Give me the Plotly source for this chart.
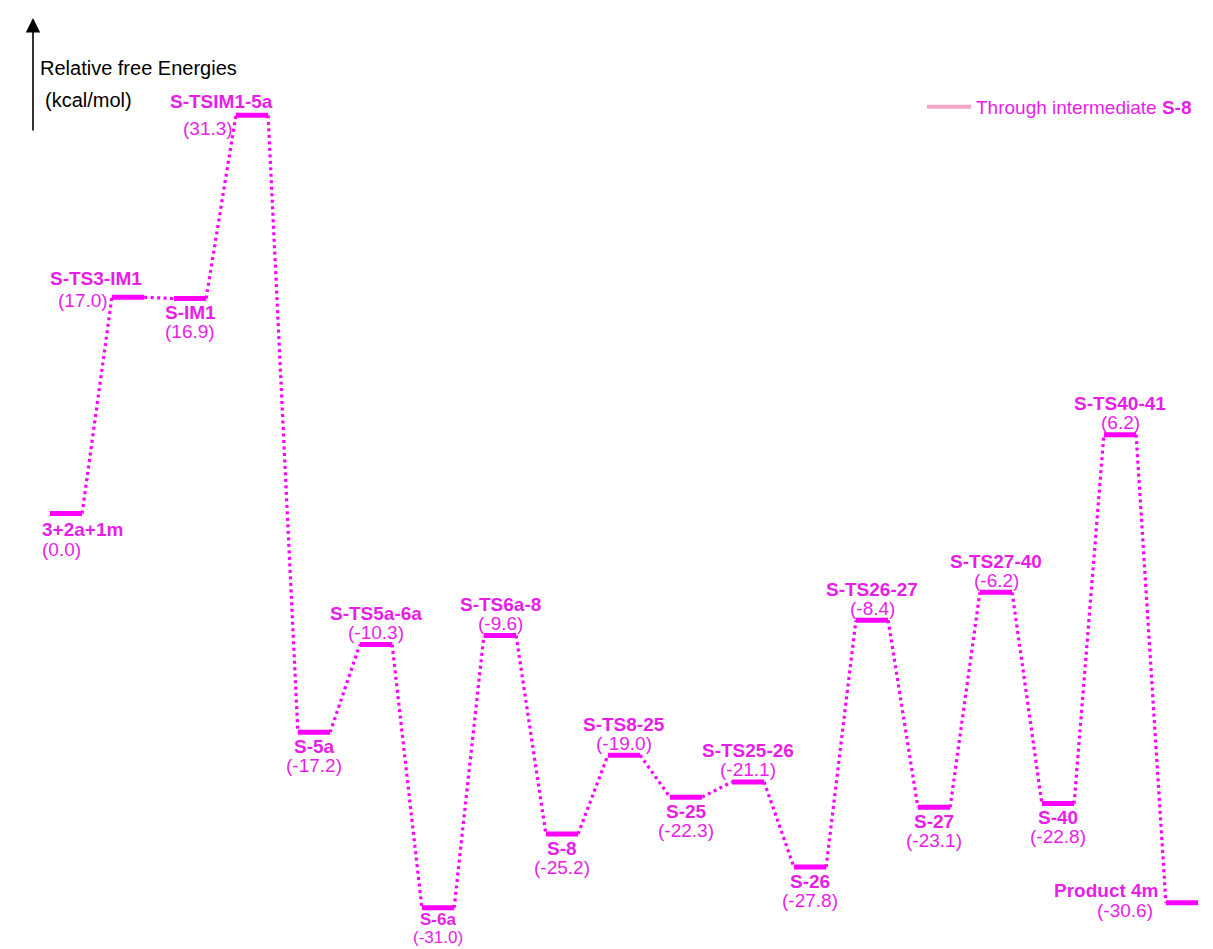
import plotly.graph_objects as go

# ---- data ----
species = ["3+2a+1m", "S-TS3-IM1", "S-IM1", "S-TSIM1-5a", "S-5a", "S-TS5a-6a",
           "S-6a", "S-TS6a-8", "S-8", "S-TS8-25", "S-25", "S-TS25-26", "S-26",
           "S-TS26-27", "S-27", "S-TS27-40", "S-40", "S-TS40-41", "Product 4m"]
energies = [0.0, 17.0, 16.9, 31.3, -17.2, -10.3, -31.0, -9.6, -25.2, -19.0,
            -22.3, -21.1, -27.8, -8.4, -23.1, -6.2, -22.8, 6.2, -30.6]
legend_label = "Through intermediate <b>S-8</b>"
axis_title = ["Relative free Energies", "(kcal/mol)"]

# ---- styling ----
MAG = "#ff00ff"
TXT = "#e81ee8"
FONT = "Arial, Liberation Sans, sans-serif"
FS = 19
HALF = 0.26  # half bar width in x units

# label placement: (xanchor, x offset in bar units, xshift px, yshift px, font size)
default_above = dict(name=("center", 0, 0, 31, FS), value=("center", 0, 0, 12, FS))
default_below = dict(name=("center", 0, 0, -14, FS), value=("center", 0, 0, -33, FS))
special = {
    0: dict(name=("left", -HALF, -10, -16, FS), value=("left", -HALF, -10, -36, FS)),
    1: dict(name=("right", HALF, 0, 19, FS), value=("right", -HALF, -2, -3, FS)),
    3: dict(name=("right", HALF, 7, 14, FS), value=("right", -HALF, -1, -13, FS)),
    6: dict(name=("center", 0, 0, -12, 17), value=("center", 0, 0, -30, 17)),
    18: dict(name=("right", -HALF, -5, 12, FS), value=("right", -HALF, -11, -8, FS)),
}

n = len(species)
xs = list(range(n))

# bars
bx, by = [], []
for i, e in zip(xs, energies):
    bx += [i - HALF, i + HALF, None]
    by += [e, e, None]

# connectors
cx, cy = [], []
for i in range(n - 1):
    cx += [xs[i] + HALF, xs[i + 1] - HALF, None]
    cy += [energies[i], energies[i + 1], None]

fig = go.Figure()
fig.add_trace(go.Scatter(x=cx, y=cy, mode="lines", showlegend=False,
                         line=dict(color=MAG, width=3.2, dash="3px,3.5px"),
                         hoverinfo="skip"))
fig.add_trace(go.Scatter(x=bx, y=by, mode="lines", showlegend=False,
                         line=dict(color=MAG, width=5), hoverinfo="skip"))
fig.add_trace(go.Scatter(x=[None], y=[None], mode="lines", name=legend_label,
                         line=dict(color="#f4a3c4", width=4)))

for i, (name, e) in enumerate(zip(species, energies)):
    if i in special:
        spec = special[i]
    else:
        is_max = (i == 0 or e > energies[i - 1]) and (i == n - 1 or e > energies[i + 1])
        spec = default_above if is_max else default_below
    for key, text, bold in (("name", name, True), ("value", f"({e:.1f})", False)):
        xa, dx, xsft, ysft, fs = spec[key]
        fig.add_annotation(x=i + dx, y=e, xref="x", yref="y", showarrow=False,
                           text=f"<b>{text}</b>" if bold else text,
                           xanchor=xa, yanchor="middle", xshift=xsft, yshift=ysft,
                           font=dict(family=FONT, size=fs, color=TXT))

# axis arrow and title
W, H = 1213, 949
fig.add_annotation(x=33 / W, y=1 - 18 / H, xref="paper", yref="paper",
                   ax=0, ay=114, showarrow=True, arrowhead=2, arrowsize=1.8,
                   arrowwidth=1.6, arrowcolor="black", text="")
fig.add_annotation(x=38 / W, y=1 - 68 / H, xref="paper", yref="paper",
                   text=axis_title[0], showarrow=False, xanchor="left", yanchor="middle",
                   font=dict(family=FONT, size=20, color="black"))
fig.add_annotation(x=43 / W, y=1 - 100 / H, xref="paper", yref="paper",
                   text=axis_title[1], showarrow=False, xanchor="left", yanchor="middle",
                   font=dict(family=FONT, size=20, color="black"))

x0 = -66 / 62
x1 = (W - 66) / 62
zero_px, scale = 513.5, 12.72
y_top = zero_px / scale
y_bot = -(H - zero_px) / scale
fig.update_layout(
    width=W, height=H, margin=dict(l=0, r=0, t=0, b=0),
    paper_bgcolor="white", plot_bgcolor="white",
    xaxis=dict(range=[x0, x1], visible=False, fixedrange=True),
    yaxis=dict(range=[y_bot, y_top], visible=False, fixedrange=True),
    showlegend=True,
    legend=dict(x=922 / W, y=1 - 107 / H, xanchor="left", yanchor="middle",
                itemwidth=44, bgcolor="rgba(0,0,0,0)",
                font=dict(family=FONT, size=19, color=TXT)),
)
fig.write_html("out.html", config={"displayModeBar": False},
               post_script="document.body.style.margin='0';")
